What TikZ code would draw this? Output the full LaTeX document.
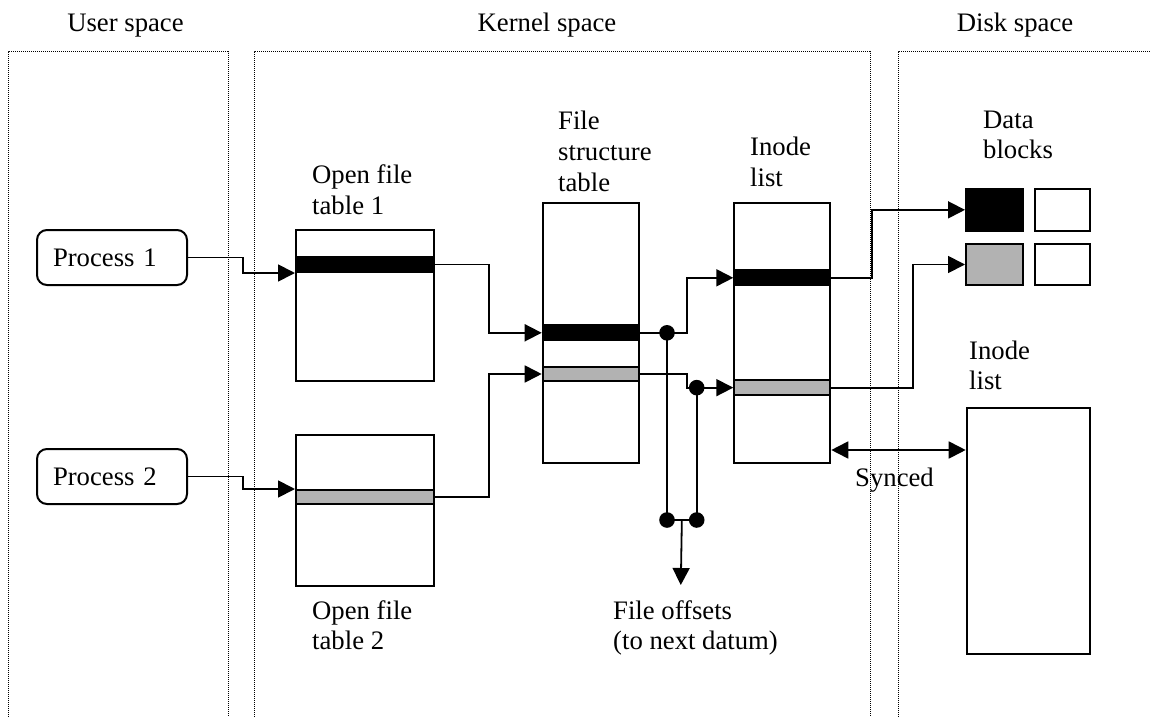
\documentclass[tikz,border=0pt]{standalone}
\usepackage{fontspec}
\setmainfont{Liberation Serif}
\usetikzlibrary{arrows.meta,calc}
\definecolor{slotgray}{RGB}{178,178,178}
\begin{document}
\begin{tikzpicture}[x=1pt,y=-1pt,
  every node/.style={font=\fontsize{26.7}{30.7}\selectfont},
  frame/.style={line width=1pt, dash pattern=on 1pt off 1pt},
  box/.style={draw, line width=2pt, rectangle, inner sep=0pt, anchor=north west, fill=white},
  blackslot/.style={box, fill=black},
  grayslot/.style={box, fill=slotgray},
  proc/.style={draw, line width=2pt, rounded corners=10pt, anchor=north west,
    minimum width=150pt, minimum height=55pt, text width=118pt, inner xsep=16pt, align=left},
  lbl/.style={anchor=north west, inner sep=0pt, align=left},
  hdr/.style={anchor=base, inner sep=0pt},
  link/.style={line width=1.8pt},
  arr/.style={link, -{Triangle[length=17pt,width=17pt]}},
  biarr/.style={link, {Triangle[length=17pt,width=17pt]}-{Triangle[length=17pt,width=17pt]}},
  joint/.style={circle, fill=black, inner sep=0pt, minimum size=15.6pt}
]
\useasboundingbox (0,0) rectangle (1151,717);

% address-space frames
\draw[frame] (8,717) -- (8,52) -- (228,52) -- (228,717);
\draw[frame] (254,717) -- (254,52) -- (870,52) -- (870,717);
\draw[frame] (898,717) -- (898,52) -- (1151,52);

\node[hdr] (huser) at (125.5,32) {User space};
\node[hdr] (hkern) at (547,32) {Kernel space};
\node[hdr] (hdisk) at (1015,32) {Disk space};

% processes
\node[proc] (p1) at (36,229) {Process 1};
\node[proc] (p2) at (36,448) {Process 2};

% open file tables
\node[box, minimum width=138pt, minimum height=151pt] (oft1) at (295,229) {};
\node[blackslot, minimum width=138pt, minimum height=15pt] (oft1bar) at (295,256) {};
\node[box, minimum width=138pt, minimum height=151pt] (oft2) at (295,434) {};
\node[grayslot, minimum width=138pt, minimum height=14pt] (oft2bar) at (295,489) {};
\node[lbl] (loft1) at (312,162) {\strut Open file\\table 1};
\node[lbl] (loft2) at (312,597.5) {\strut Open file\\table 2};

% file structure table
\node[box, minimum width=96.3pt, minimum height=260.3pt] (fst) at (541.7,201.7) {};
\node[blackslot, minimum width=96.3pt, minimum height=15pt] (fstb) at (541.7,324.3) {};
\node[grayslot, minimum width=96.3pt, minimum height=14pt] (fstg) at (541.7,366) {};
\node[lbl] (lfst) at (558,108) {\strut File\\structure\\table};

% in-kernel inode list
\node[box, minimum width=96pt, minimum height=260.3pt] (inl) at (733.3,201.7) {};
\node[blackslot, minimum width=96pt, minimum height=15pt] (inb) at (733.3,269.3) {};
\node[grayslot, minimum width=96pt, minimum height=14.7pt] (ing) at (733.3,379.3) {};
\node[lbl] (linl) at (750,134) {\strut Inode\\list};

% data blocks on disk
\node[blackslot, minimum width=56.7pt, minimum height=42.3pt] (db1) at (965,187.7) {};
\node[box, minimum width=55.3pt, minimum height=42.3pt] (db1w) at (1034,187.7) {};
\node[grayslot, minimum width=56.7pt, minimum height=41.6pt] (db2) at (965,242.7) {};
\node[box, minimum width=55.3pt, minimum height=41.6pt] (db2w) at (1034,242.7) {};
\node[lbl] (ldb) at (983,106.5) {\strut Data\\blocks};

% on-disk inode list
\node[box, minimum width=123.6pt, minimum height=246pt] (dinl) at (965.7,407.3) {};
\node[lbl] (ldinl) at (969,337.5) {\strut Inode\\list};

% process -> open file table
\draw[arr] (p1.east) -- ++(55,0) |- (oft1bar.south west);
\draw[arr] (p2.east) -- ++(55,0) |- (oft2bar.north west);

% open file table -> file structure table
\draw[arr] (oft1bar.east) -- ++(54,0) |- (fstb.west);
\draw[arr] (oft2bar.east) -- ++(54,0) |- (fstg.west);

% file structure table -> inode list
\draw[arr] (fstb.east) -- ++(47,0) |- (inb.west);
\draw[arr] (fstg.east) -- ++(47,0) |- (ing.west);

% inode list -> data blocks
\draw[arr] (inb.east) -- ++(40.7,0) |- (db1.west);
\draw[arr] (ing.east) -- ++(81.4,0) |- (db2.west);

% synchronisation between the two inode lists
\coordinate (sa) at ($(inl.south east)+(0,-14)$);
\draw[biarr] (sa) -- (sa -| dinl.west);
\node[anchor=base west, inner sep=0pt] (lsync) at (855,486) {Synced};

% file offsets
\node[joint] (d1) at ($(fstb.east)+(27,0)$) {};
\node[joint] (d2) at ($(ing.west)+(-36.6,0)$) {};
\node[joint] (d3) at (d1 |- 0,520) {};
\node[joint] (d4) at (d2 |- 0,520) {};
\draw[link] (d1.center) -- (d3.center);
\draw[link] (d2.center) -- (d4.center);
\draw[link] (d3.center) -- (d4.center);
\coordinate (offtip) at (680.8,585);
\draw[arr] ($(d3.center)!0.5!(d4.center)$) -- (offtip);
\node[lbl] (loff) at (613,597.5) {\strut File offsets\\(to next datum)};
\end{tikzpicture}
\end{document}
